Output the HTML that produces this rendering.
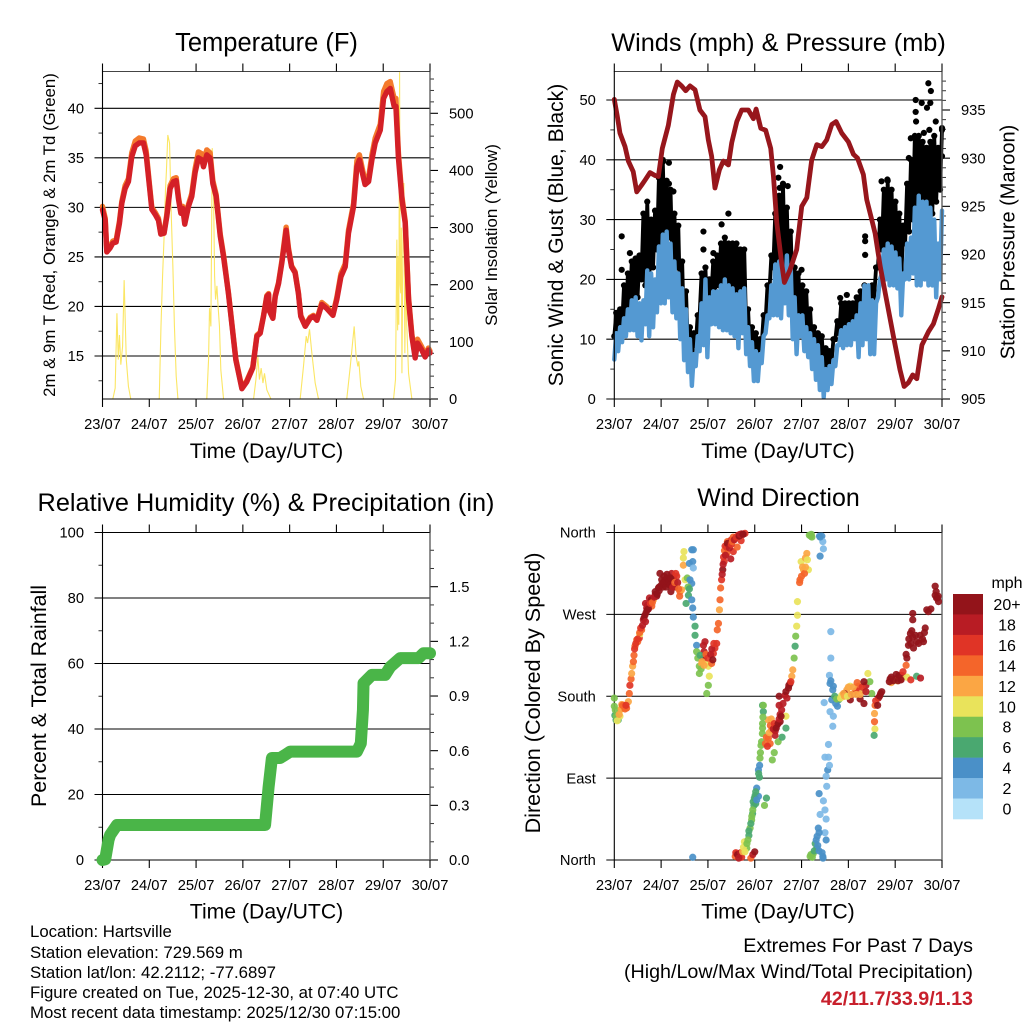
<!DOCTYPE html>
<html lang="en">
<head>
<meta charset="utf-8">
<title>Hartsville Station Charts</title>
<style>
html,body{margin:0;padding:0;background:#fff;width:1024px;height:1024px;overflow:hidden}
svg{display:block;font-family:"Liberation Sans",Arial,sans-serif;fill:#000}
</style>
</head>
<body>
<svg id="root" width="1024" height="1024" viewBox="0 0 1024 1024" xmlns="http://www.w3.org/2000/svg">
<rect width="1024" height="1024" fill="#fff"/>
<text x="266.5" y="51" font-size="25.5" text-anchor="middle">Temperature (F)</text>
<text x="778.5" y="51" font-size="25.3" text-anchor="middle">Winds (mph) &amp; Pressure (mb)</text>
<text x="266" y="511" font-size="25.3" text-anchor="middle">Relative Humidity (%) &amp; Precipitation (in)</text>
<text x="778.5" y="506" font-size="25" text-anchor="middle">Wind Direction</text>
<text x="266.5" y="458" font-size="21.2" text-anchor="middle">Time (Day/UTC)</text>
<text x="778" y="458" font-size="21.2" text-anchor="middle">Time (Day/UTC)</text>
<text x="266.5" y="918.5" font-size="21.2" text-anchor="middle">Time (Day/UTC)</text>
<text x="778" y="918.5" font-size="21.2" text-anchor="middle">Time (Day/UTC)</text>
<text transform="translate(55,235) rotate(-90)" font-size="16.8" text-anchor="middle">2m &amp; 9m T (Red, Orange) &amp; 2m Td (Green)</text>
<text transform="translate(497,235) rotate(-90)" font-size="17" text-anchor="middle">Solar Insolation (Yellow)</text>
<text transform="translate(563,235) rotate(-90)" font-size="21.1" text-anchor="middle">Sonic Wind &amp; Gust (Blue, Black)</text>
<text transform="translate(1014.5,242) rotate(-90)" font-size="20" text-anchor="middle">Station Pressure (Maroon)</text>
<text transform="translate(46,696) rotate(-90)" font-size="21.4" text-anchor="middle">Percent &amp; Total Rainfall</text>
<text transform="translate(540,693) rotate(-90)" font-size="21.6" text-anchor="middle">Direction (Colored By Speed)</text>
<g font-size="16.8">
<text x="30" y="937">Location: Hartsville</text>
<text x="30" y="958">Station elevation: 729.569 m</text>
<text x="30" y="978">Station lat/lon: 42.2112; -77.6897</text>
<text x="30" y="998">Figure created on Tue, 2025-12-30, at 07:40 UTC</text>
<text x="30" y="1018">Most recent data timestamp: 2025/12/30 07:15:00</text>
</g>
<g font-size="19.7" text-anchor="end">
<text x="973" y="952">Extremes For Past 7 Days</text>
<text x="973" y="978">(High/Low/Max Wind/Total Precipitation)</text>
<text x="973" y="1005" font-weight="bold" fill="#c8202c">42/11.7/33.9/1.13</text>
</g>
<text x="1007" y="588" font-size="16" text-anchor="middle">mph</text>
</svg>
<script>
// ---------- Temperature panel data ----------
const tempHours = [0,1.4,2.2,3.9,5.3,7,8.7,9.9,11.6,13.3,15,16.8,18.8,21,22.4,24.1,25.3,27,28.7,29.9,31.6,33,34.7,36.4,37.8,39,40.2,41.2,42.2,44.1,45.8,47.5,49.2,51,51.8,53.5,55.2,56.6,58.3,60.4,62.1,64.6,66.3,68.4,71.5,74,77.1,79.2,80.9,82.6,84.3,85.2,85.5,87.4,88.6,90.3,92,94.2,95.4,97,98.8,100.5,101.7,104,106.5,108.2,110,112.5,115,118.2,120.2,122.3,124.5,126.2,128.8,130.5,131.8,133.5,134.7,136.5,138.2,139.9,142.5,144.2,145.9,147.6,149.6,150.5,151.8,153.6,155.3,157,158.7,160.4,161.6,163.8,165.5,167.2,168];
const tempRed = [29.75,28.7,25.5,25.9,26.4,26.5,28.4,30.4,31.9,32.6,35.1,36.2,36.5,36.5,35.3,32.1,29.8,29.3,28.7,27.3,27.4,29.1,31.9,32.6,32.7,30.8,29.4,29.9,28.3,30.1,31.1,33.5,35,34.8,34.1,35.3,35,32.4,31.1,27.1,25,21.3,18.3,14.6,11.7,12.4,13.8,17,17.3,19,21,21.2,19.6,18.8,21,22.3,24.4,27.7,25.7,24,23.4,21.3,19,18,18.8,19,18.6,20.2,19.8,19.1,20.7,23,24,27.4,30.1,34.1,34.8,33.3,32.3,32.6,34.8,36.5,37.8,41,41.7,42,40.2,40.2,35,30.8,28.4,20.7,17,14.8,16.3,15.6,14.9,15.6,15.3];
const tempOrange = [30.1,28.9,25.6,26.1,26.6,26.7,28.6,30.6,32.2,32.9,35.5,36.7,37,36.9,35.7,32.3,30,29.5,28.9,27.4,27.5,29.3,32.2,32.9,33,31,29.6,30.1,28.5,30.3,31.4,33.9,35.6,35.4,34.6,35.8,35.5,32.7,31.3,27.3,25.2,21.4,18.4,14.7,11.8,12.5,13.9,17.1,17.4,19.1,21.1,21.3,19.7,18.9,21.1,22.4,24.6,28,25.9,24.1,23.5,21.4,19.1,18.1,18.9,19.1,18.7,20.4,20,19.2,20.9,23.3,24.3,27.7,30.4,34.7,35.3,33.7,32.7,33,35.3,37,38.4,41.7,42.5,42.7,41,41,35.5,31.1,28.6,20.9,17.2,15,16.7,15.9,15.1,15.8,15.5];
const solarHours = [0,5.3,6.5,7.4,8.1,8.7,9.4,10.3,11.1,12.2,13.3,14.5,29.1,30,30.8,31.6,32.3,32.8,33.5,34.4,35.2,36.1,36.9,37.8,38.7,53.5,54.4,54.9,55.6,56.3,57,57.5,58,58.7,59.3,60,60.7,62.1,77.5,78.7,79.7,80.5,81.4,82.3,83.1,84.3,86.4,101.4,103.1,104.5,105.2,106.2,107.4,109.1,110.8,125.3,127.1,128.1,129.1,130.1,131,131.5,132.5,133.9,149.3,150.3,151,151.4,151.7,152,152.4,152.7,153,153.3,153.6,154.1,154.6,155.1,155.6,156.1,157,158.7,168];
const solarValues = [0,0,19,150,69,112,60,92,208,69,22,0,0,127,214,284,365,400,462,448,331,232,127,40,0,0,69,159,127,439,349,215,174,198,162,127,51,0,0,34,74,34,54,28,45,16,0,0,57,110,98,122,80,28,0,0,57,92,127,75,57,66,22,0,0,34,279,120,250,130,572,200,185,300,45,267,378,80,230,127,45,0,0];
const tempTicks = [15,20,25,30,35,40];
const tempMinorTicks = [12.5,17.5,22.5,27.5,32.5,37.5,42.5];
const solarTicks = [0,100,200,300,400,500];
const solarMinorTicks = [20,40,60,80,120,140,160,180,220,240,260,280,320,340,360,380,420,440,460,480,520,540,560];

// ---------- Winds panel data ----------
const pressureHours = [0,1.5,2.9,5.5,7.2,9.7,11.5,14,15.7,18.3,20.9,22.6,24.6,27.7,30.3,32.3,34.5,36.6,38.8,41.4,43.9,46.5,48.2,49.9,51.6,53.9,55.9,58.5,60.2,62.8,65.3,68.7,71.3,72.7,75.1,77.6,80.2,81.6,83.3,85.8,87.2,90.1,93.5,96.1,98.7,101.2,103.8,106.4,108.9,111.5,113.7,116.6,120,122.6,124.7,127.7,129.4,132,133.7,136.3,138.9,143.1,146.5,148.6,150.8,153,155.1,157.7,161.1,163.6,166.2,168];
const pressureValues = [936.1,934.4,932.6,931.2,929.7,928.6,926.5,927.2,927.7,928.5,928.2,928.1,931,933.4,936.6,937.9,937.5,937,937.5,937.1,935,934.3,931.9,930.2,926.9,928.8,929.7,929.3,931.6,933.8,935,935,934.1,935.1,933.1,932.9,931,928.1,923.3,919.1,917.1,918.4,920.5,925,925.9,929.8,931.4,931.2,931.9,933.5,933.8,932.6,931.7,930.4,930,928.3,925.7,923.6,922.2,918.8,916,911.5,908,906.3,906.7,907.5,907.1,910.6,912,912.8,914.4,915.6];
const sonicWind = [6.6,11,8,12,9.5,13.5,10.5,15,11.5,16.5,11.5,17,10.5,16,9.8,16.5,12.5,21.5,10.5,21,12,20,14.5,25.5,16,27.5,16,28,17,26,14.5,23,13.5,21,10,18.5,6.5,15,4.5,10,2.2,7.5,5.5,10.5,8,16,9,20,7,17,12.5,18,12.5,18,12,19,11.5,20,11.5,19,11,18.5,10.5,17.5,8.5,18,11,18.5,7.5,12,5.5,9.5,3,8,3,7.5,6,10.5,11,14,13.5,19,14,22.5,14,23,13.5,21.5,16,24,14,22,10,17,7.5,14,10.5,14,8,12,7,11,5,10,3.2,9,1.5,7,0.3,5,1.5,5.5,2.5,6.5,5.5,9,9,11.5,8.5,12,9,12.5,9,13,10,14,7,16,9,19,10,19,7.5,16.5,7.5,16,17,20,21,25,20,26,19,25.5,19,24.5,18.5,23.5,14,21,20,26,20,27,21,32,19,34,19,33,20,33,19,32,19,30,17,26,20,31.5];
const gustWind = [10.5,14.4,10.5,15,12,19,13,21,15,23,16,23.5,17,24,20,31,19,33,19,30,22,31.5,25,37,26,40,27,36.5,27,35,22,31,22,29,15,23,10,18,8,12,6.5,11,9,14,14,21,15,22,13,20,17,23,18,24,19,26,19,27,19,26,18,26,17,26,16,25,17,25,12,15,8,12,7,11,7,10,9,14,13,19,18,24,22,31,23,34,22,36,21,32,19,28,16,22,14,21,12,19,11,18,10,15,9,12,8,11,6,10.5,5,8.5,4.5,8,6,10,10,13,11,16,11,16,12,16,12,16,12,17,12,18,14,19,14,18,15,19,17,22,22,30,25,35,25,36.5,24,35,22,33,21,31,20,29,26,36,28,40,30,44,31,44,30,43,32,42,30,43,31,44,33,42,35,45];
const gustSpikeHours = [3.8,3.8,8,28,25,28,30.3,45.7,45.7,58.5,55,50.8,85,84.1,88.9,84.8,96,128.6,128.6,128.6,105.5,115.8,119.2,161,162.3,154.5,157.6,162,154.5,160.3,164.8,168,154.7,161.5,152,158.7,151,168,140,137];
const gustSpikeValues = [27.2,21.6,24.4,39.5,39.7,36,34.7,28,25,31,29.2,24.4,38.8,37,35.6,35.3,21.6,27.2,26.4,24.1,10.2,16.9,17.4,52.8,51.5,50,49.5,49.5,48,48.7,46.4,45.3,46.4,45,43.6,44.5,40.3,40.6,36.7,36.4];
const windTicks = [0,10,20,30,40,50];
const windMinorTicks = [5,15,25,35,45];
const pressureTicks = [905,910,915,920,925,930,935];
const pressureMinorTicks = [906,907,908,909,911,912,913,914,916,917,918,919,921,922,923,924,926,927,928,929,931,932,933,934,936,937,938];

// ---------- Humidity / precipitation panel data ----------
const rainHours = [0,1.4,3.1,3.9,7.4,80.9,83.4,85.2,86.9,91.1,93.7,96.3,130.5,132.5,133.6,133.9,138.2,145,147.6,152.7,162.1,164.7,168];
const rainInches = [0,0.004,0.11,0.137,0.192,0.192,0.192,0.4,0.56,0.56,0.577,0.595,0.595,0.64,0.824,0.97,1.016,1.016,1.06,1.108,1.108,1.135,1.135];
const percentTicks = [0,20,40,60,80,100];
const percentMinorTicks = [10,30,50,70,90];
const rainTicks = ['0.0','0.3','0.6','0.9','1.2','1.5'];
const rainMinorTicks = [0.1,0.2,0.4,0.5,0.7,0.8,1.0,1.1,1.3,1.4,1.6,1.7];

// ---------- Wind direction panel data ----------
const dirHours = [0,0,0.3,0.9,2,2.9,2.9,3.8,5,6.3,7.2,7.7,8,8.6,9.4,10.1,10.6,11.5,12.8,14,14.9,15.7,16.6,18,19.2,20,21.7,22.6,23.4,24.3,26,27.7,29.4,30.3,32,33.7,34.5,35.4,35.4,35.7,36.3,37.4,38.8,39.7,38.5,40.2,39.7,40.5,40.5,38,36.8,39.7,40.2,40.5,41.4,41.4,42.2,42.2,42.8,43.6,43.6,45.7,46,45.7,44.8,47.4,48.2,47.4,48.2,48.7,49.9,50.8,51.6,52.5,52.8,53.4,53.9,54.2,54.5,55,55.6,56.3,57.6,56.8,58.5,59.7,61,62,63.6,65.3,67,40.2,
62,62.7,64.5,65.3,66.7,67.9,69,69.6,70.4,70.9,71.6,72.2,73,73.9,74.4,73.9,74.7,75.2,75.9,76,76.4,76,79,79.9,79,80.7,82.4,83.3,85,85.8,84.5,84.5,87.5,89.3,90.1,91,91.5,92.2,92.7,93,93.5,93.9,93.9,95.2,97,98.7,95.8,99.5,100.7,105.2,106.4,106.9,107.2,105.5,
100.4,102,103.8,104,104.6,106.9,108.6,108,105.5,108,108.6,105,107.2,108.9,108.6,109.4,110.3,108,109.8,109.8,112,112.3,110.6,107.6,111,111,
110.3,110.6,112.3,111.5,114.4,115,116.6,119.2,120.9,123.5,125.2,127.7,129,130,131,132,133.7,135.4,137.1,133.4,133.4,133.6,133.2,
141.4,144,146.5,147.4,149.6,149.6,150.8,153.4,151.8,154.4,153,153,156.8,159.4,158.5,160.2,162.3,164.5,164.5,165.7,166.2,
16,17,19,21,23,25,25,27,28,29,31,12,13,58,60,61,64,66,65,63,70,71,72,77,78,81,82,84,86,88,88,142,143,145,146,147,150,152,155,157,121,122,124,118,126,128,
0.5,1,1.5,2.5,3.5,4.2,5.5,6,8.9,9.8,10.4,11,12,13,13.5,14.5,15.2,16,16.3,17,17.5,18.5,19.5,20.5,21,22,
23,24,25,25.5,26.5,27,28,28.5,29,30,31,31.5,32.5,33,33.5,37.8,38.5,
44,44.5,45,46,46.5,47,48,49.4,50,50.5,51,
55.3,55.8,56,56.5,57,57.5,58,59,60,60.5,61.5,62.5,64,64.5,66,
62.3,63.2,63.8,64.8,65.8,66.2,67,68,68.5,69,70,70.5,71,71.2,71.8,72.5,72.5,73,
74,74.5,74.9,75.5,76,76.2,76.4,
77.5,78,78.5,79.5,80,80.5,81.5,82,82.5,83,84,84.5,85,85.5,86.5,88,88.5,89.5,90.5,
95,96,96.5,97.5,98,98,99,100,101,101.3,105.5,
100.8,101.5,102.5,103,103.5,104.3,105,105,106.5,107,
111,112,113,113.5,114,116,117.5,118,119.5,120,121.5,122.5,124,124.5,126,127,128,129,134,135,136,136.5,
141,142,143,144.5,145.5,146,147,148,150,151,152,152.5,153,155,156,158,159,161,165,165.2,166];
const dirDegrees = [178,169,159,154,154,158,165,171,170,167,174,183,192,199,213,225,235,242,244,253,264,269,277,288,279,286,290,299,315,308,308,308,315,310,312,295,297,324,332,339,308,310,308,304,326,328,341,341,321,291,282,286,277,267,257,247,236,229,222,213,205,236,229,222,216,216,213,183,192,202,216,227,233,238,253,260,275,286,299,308,319,328,337,345,346,331,339,354,357,358.5,359,3,
4,7,5,3,20,13,27,35,44,51,60,71,79,70,91,99,112,126,139,150,163,170,134,128,154,143,137,148,152,165,170,180,181,189,194,202,209,222,235,246,257,269,284,308,319,337,328,319,356,356,356,350,342,334,
4,7,13,26,35,4,22,30,50,55,45,73,65,81,92,99,104,113,113,127,147,158,163,173,222,251,
203,194,191,176,169,176,181,187,191,185,191,186,192,205,196,183,170,178,185,161,152,144,137,
199,199,200,203,214,226,236,233,249,247,264,271,247,255,240,275,276,301,291,288,284,
282,275,286,292,296,305,300,310,303,295,300,240,248,350,352,355,357,358,351,344,2,6,9,60,68,110,118,130,135,145,158,195,198,197,200,199,201,198,202,200,176,182,186,183,177,172,
165,158,153,160,166,170,166,170,205,218,232,238,243,250,255,258,266,262,272,280,276,282,283,289,295,292,
300,302,304,312,300,314,305,302,310,300,305,315,305,298,290,300,298,
225,210,218,214,240,226,222,226,232,220,238,
314,325,333,340,335,344,348,343,347,350,352,355,356,358,358,
8,6,2,8,9,14,9,18,22,32,40,48,55,64,68,62,75,66,
95,104,118,130,145,157,170,
128,135,125,140,148,155,144,150,142,145,150,155,160,158,172,185,178,192,196,
305,312,322,315,322,332,330,357,358,355,355,
6,3,10,18,22,16,30,10,8,2,
197,187,180,172,177,178,183,180,180,190,182,190,182,195,182,190,196,185,175,170,180,183,
196,201,197,204,197,203,198,207,222,243,238,252,245,240,238,243,250,273,295,288,290];
const dirSpeeds = [7,7,6,6,6,10,10,12,13,14,12,14,15,14,12,14,14,14,16,13,18,20,18,18,13,12,20,20,20,20,20,20,17,20,16,14,12,12,10,10,10,8,4,4,4,4,4,4,2,6,6,4,4,4,6,6,4,8,8,8,8,18,18,20,12,10,10,8,8,10,13,16,16,16,14,14,12,13,14,15,19,16,14,16,17,18,16,14,15,18,16,4,
14,18,18,16,10,8,6,7,8,6,6,6,4,4,6,4,7,8,8,8,6,6,14,14,12,14,18,18,20,18,18,20,18,20,20,12,12,7,6,8,10,10,10,14,12,12,10,10,8,4,3,1,2,4,
7,7,6,4,4,4,4,1,2,2,2,3,1,2,2,4,1,2,2,1,2,2,2,1,2,1,
2,4,4,3,4,6,9,12,10,12,13,10,18,10,8,8,14,18,20,12,14,10,6,
20,20,20,18,14,20,20,20,20,20,20,20,20,20,20,20,20,20,20,20,20,
18,20,20,20,20,20,20,20,20,20,20,13,10,14,16,14,15,18,16,14,14,18,20,8,6,8,7,8,6,6,10,12,13,10,13,14,10,16,6,18,20,18,16,20,20,20,
8,8,10,11,12,14,14,15,12,13,15,15,16,14,16,18,20,18,20,18,20,16,14,17,20,20,
20,20,20,20,20,20,20,20,20,17,14,16,18,13,14,8,6,
6,8,12,12,18,14,16,18,18,20,16,
18,18,16,14,18,16,20,18,16,14,18,16,20,18,20,
16,20,18,18,12,10,9,8,8,6,6,7,8,6,6,5,6,4,
6,4,7,8,8,8,7,
13,14,15,12,13,11,17,16,18,20,19,18,17,20,18,20,18,20,16,
14,14,12,14,12,11,10,7,7,8,4,
7,7,6,5,4,4,4,4,4,4,
4,3,6,4,8,9,12,11,10,12,11,12,12,14,12,15,20,18,16,20,20,20,
20,20,20,20,20,20,20,16,20,20,20,20,20,20,20,20,20,20,20,20,20];
const dirTickDegrees = [0,90,180,270,360];
const dirTickLabels = ['North','East','South','West','North'];
const dayLabels = ['23/07','24/07','25/07','26/07','27/07','28/07','29/07','30/07'];

// ---------- Legend data ----------
const legendLabels = ['20+','18','16','14','12','10','8','6','4','2','0'];
const speedColors = ['#b5e2f9','#7db9e6','#4a90c8','#4aa870','#7dc24f','#e9e35b','#fba644','#f4652a','#e03426','#b81c24','#93141a'];

// ---------- Helpers ----------
const NS = 'http://www.w3.org/2000/svg';
const root = document.getElementById('root');
function make(tag, parent, name, props) {
  const el = document.createElementNS(NS, tag);
  
  
  for (const k in props) el.setAttribute(k, props[k]);
  parent.appendChild(el);
  return el;
}
function group(name) { return make('g', root, name, {}); }
function seg(parent, name, x1, y1, x2, y2, color, w) {
  return make('line', parent, name, {x1:x1, y1:y1, x2:x2, y2:y2, stroke:color||'#000', 'stroke-width':w||1.1});
}
function label(parent, name, x, y, text, anchor) {
  const t = make('text', parent, name, {x:x, y:y, 'font-size':14.7, 'text-anchor':anchor});
  t.textContent = text;
  return t;
}
function path(parent, name, xs, ys, color, w, extra) {
  const pts = xs.map((v, i) => (i ? 'L' : 'M') + v.toFixed(2) + ' ' + ys[i].toFixed(2)).join('');
  return make('path', parent, name, Object.assign({d:pts, fill:'none', stroke:color, 'stroke-width':w, 'stroke-linejoin':'round', 'stroke-linecap':'round'}, extra||{}));
}
function linear(d0, d1, r0, r1) { return v => r0 + (v - d0) * (r1 - r0) / (d1 - d0); }

function frame(g, box, labelBase) {
  seg(g, 'left-spine', box.l, box.t - 0.5, box.l, box.b + 0.5);
  seg(g, 'bottom-spine', box.l, box.b, box.r, box.b);
  seg(g, 'right-spine', box.r, box.t, box.r, box.b, '#555', 1.3);
  dayLabels.forEach((d, i) => {
    const x = box.l + i * (box.r - box.l) / 7;
    seg(g, 'bottom-tick', x, box.b, x, box.b + 8);
    seg(g, 'top-tick', x, box.t - 8, x, box.t);
    label(g, 'x-tick-label', x, labelBase, d, 'middle');
  });
}
function leftAxis(g, box, scale, ticks, minors, texts) {
  ticks.forEach((v, i) => {
    const y = scale(+v);
    seg(g, 'gridline', box.l - 8, y, box.r, y);
    label(g, 'left-tick-label', box.l - 18.5, y + 5.2, texts ? texts[i] : String(v), 'end');
  });
  (minors || []).forEach(v => {
    seg(g, 'left-minor-tick', box.l - 4, scale(v), box.l, scale(v), '#333', 1);
  });
}
function rightAxis(g, box, scale, ticks, minors) {
  ticks.forEach(v => {
    const y = scale(+v);
    seg(g, 'right-tick', box.r, y, box.r + 8, y);
    label(g, 'right-tick-label', box.r + 19, y + 5.2, String(v), 'start');
  });
  minors.forEach(v => {
    seg(g, 'right-minor-tick', box.r, scale(v), box.r + 4, scale(v), '#333', 1);
  });
}

// ---------- Temperature panel ----------
const b1 = {l:102.5, r:430, t:71.5, b:399};
const g1 = group('temperature-panel');
const x1 = linear(0, 168, b1.l, b1.r);
const yT = linear(15, 40, 356, 108.3);
const yS = linear(0, 500, 399, 113.3);
seg(g1, 'top-spine', b1.l, b1.t, b1.r, b1.t, '#444', 1);
leftAxis(g1, b1, yT, tempTicks, tempMinorTicks);
rightAxis(g1, b1, yS, solarTicks, solarMinorTicks);
path(g1, 'solar-insolation-line', solarHours.map(x1), solarValues.map(yS), '#fbe664', 1.1, {'stroke-linejoin':'miter','stroke-linecap':'butt'});
path(g1, 'temperature-9m-line', tempHours.map(x1), tempOrange.map(yT), '#f47a2c', 5.4);
path(g1, 'temperature-2m-line', tempHours.map(x1), tempRed.map(yT), '#d42027', 5.4);
frame(g1, b1, 429);

// ---------- Winds panel ----------
const b2 = {l:614.3, r:942, t:71.5, b:399};
const g2 = group('winds-panel');
const x2 = linear(0, 168, b2.l, b2.r);
const yW = linear(0, 50, 399, 100);
const yP = linear(905, 935, 399, 110);
seg(g2, 'top-spine', b2.l, b2.t, b2.r, b2.t, '#444', 1);
leftAxis(g2, b2, yW, windTicks, windMinorTicks);
rightAxis(g2, b2, yP, pressureTicks, pressureMinorTicks);
const gustT = gustWind.map((_, i) => i * 168 / (gustWind.length - 1));
path(g2, 'gust-band', gustT.map(x2), gustWind.map(yW), '#000', 3.8);
gustWind.forEach((v, i) => {
  make('circle', g2, 'gust-point', {cx:x2(gustT[i]).toFixed(2), cy:yW(v).toFixed(2), r:3.1, fill:'#000'});
});
gustSpikeValues.forEach((v, i) => {
  make('circle', g2, 'gust-spike-point', {cx:x2(gustSpikeHours[i]).toFixed(2), cy:yW(v).toFixed(2), r:3.1, fill:'#000'});
});
const sonicT = sonicWind.map((_, i) => i * 168 / (sonicWind.length - 1));
path(g2, 'sonic-wind-line', sonicT.map(x2), sonicWind.map(yW), '#5499d2', 4.4);
path(g2, 'pressure-line', pressureHours.map(x2), pressureValues.map(yP), '#97161c', 4.8);
frame(g2, b2, 429);

// ---------- Humidity / rain panel ----------
const b3 = {l:102.5, r:430, t:532.5, b:860};
const g3 = group('humidity-panel');
const x3 = linear(0, 168, b3.l, b3.r);
const yH = linear(0, 100, 860, 532.5);
const yR = linear(0, 1.5, 860, 586.7);
seg(g3, 'top-spine', b3.l, b3.t, b3.r, b3.t);
leftAxis(g3, b3, yH, percentTicks, percentMinorTicks);
rightAxis(g3, b3, yR, rainTicks, rainMinorTicks);
frame(g3, b3, 890);
path(g3, 'total-rainfall-line', rainHours.map(x3), rainInches.map(yR), '#4ab548', 12);

// ---------- Wind direction panel ----------
const b4 = {l:614.3, r:942, t:532.5, b:860};
const g4 = group('direction-panel');
const x4 = linear(0, 168, b4.l, b4.r);
const yD = linear(0, 360, 860, 532.5);
leftAxis(g4, b4, yD, dirTickDegrees, null, dirTickLabels);
dayLabels.forEach((d, i) => {
  const x = b4.l + i * (b4.r - b4.l) / 7;
  seg(g4, 'bottom-tick', x, b4.b, x, b4.b + 8);
  seg(g4, 'top-tick', x, b4.t - 8, x, b4.t);
  label(g4, 'x-tick-label', x, 890, d, 'middle');
});
seg(g4, 'left-spine', b4.l, b4.t, b4.l, b4.b);
seg(g4, 'right-spine', b4.r, b4.t, b4.r, b4.b, '#666', 1.4);
dirDegrees.forEach((deg, i) => {
  const idx = Math.min(10, Math.round(dirSpeeds[i] / 2));
  make('circle', g4, 'direction-point', {cx:x4(dirHours[i]).toFixed(2), cy:yD(deg).toFixed(2), r:3.6, fill:speedColors[idx], 'fill-opacity':0.92});
});

// ---------- Legend ----------
const lg = group('speed-legend');
legendLabels.forEach((t, i) => {
  const top = 594 + i * 225 / 11;
  make('rect', lg, 'legend-swatch', {x:953, y:top.toFixed(2), width:30, height:(225/11+0.3).toFixed(2), fill:speedColors[10 - i]});
  const lab = make('text', lg, 'legend-label', {x:1007, y:(top + 16).toFixed(2), 'font-size':16, 'text-anchor':'middle'});
  lab.textContent = t;
});
</script>
</body>
</html>
